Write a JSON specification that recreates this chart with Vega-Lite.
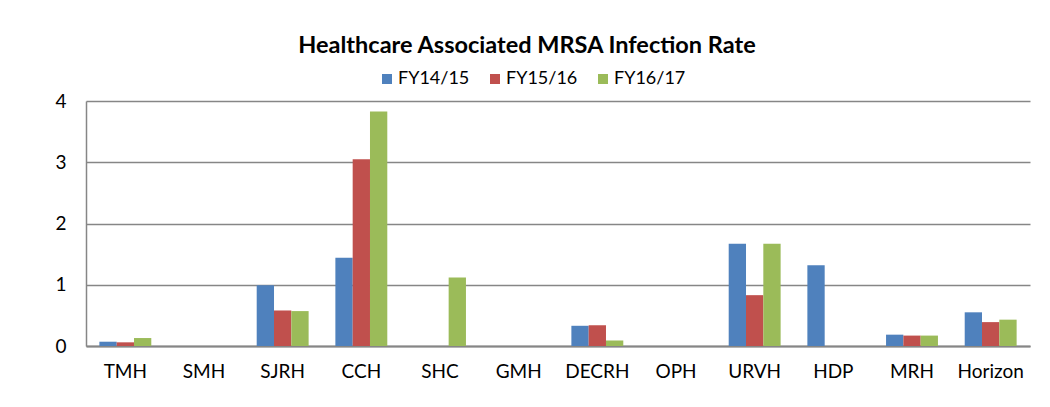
{
  "$schema": "https://vega.github.io/schema/vega-lite/v6.json",
  "width": 944,
  "height": 245,
  "autosize": {"type": "none"},
  "padding": {"left": 86, "top": 101, "right": 20, "bottom": 61},
  "background": "white",
  "title": {
    "text": "Healthcare Associated MRSA Infection Rate",
    "font": "Lato",
    "fontSize": 23.5,
    "fontWeight": "bold",
    "color": "#000000",
    "anchor": "middle",
    "dx": -31,
    "offset": 13
  },
  "config": {
    "view": {"stroke": null},
    "font": "Lato"
  },
  "data": {
    "values": [
      {"site": "TMH", "year": "FY14/15", "rate": 0.07},
      {"site": "TMH", "year": "FY15/16", "rate": 0.06},
      {"site": "TMH", "year": "FY16/17", "rate": 0.13},
      {"site": "SJRH", "year": "FY14/15", "rate": 0.99},
      {"site": "SJRH", "year": "FY15/16", "rate": 0.58},
      {"site": "SJRH", "year": "FY16/17", "rate": 0.57},
      {"site": "CCH", "year": "FY14/15", "rate": 1.44},
      {"site": "CCH", "year": "FY15/16", "rate": 3.05},
      {"site": "CCH", "year": "FY16/17", "rate": 3.83},
      {"site": "SHC", "year": "FY16/17", "rate": 1.12},
      {"site": "DECRH", "year": "FY14/15", "rate": 0.33},
      {"site": "DECRH", "year": "FY15/16", "rate": 0.34},
      {"site": "DECRH", "year": "FY16/17", "rate": 0.09},
      {"site": "URVH", "year": "FY14/15", "rate": 1.67},
      {"site": "URVH", "year": "FY15/16", "rate": 0.83},
      {"site": "URVH", "year": "FY16/17", "rate": 1.67},
      {"site": "HDP", "year": "FY14/15", "rate": 1.32},
      {"site": "MRH", "year": "FY14/15", "rate": 0.185},
      {"site": "MRH", "year": "FY15/16", "rate": 0.17},
      {"site": "MRH", "year": "FY16/17", "rate": 0.17},
      {"site": "Horizon", "year": "FY14/15", "rate": 0.55},
      {"site": "Horizon", "year": "FY15/16", "rate": 0.39},
      {"site": "Horizon", "year": "FY16/17", "rate": 0.43}
    ]
  },
  "mark": {"type": "bar"},
  "encoding": {
    "x": {
      "field": "site",
      "type": "nominal",
      "scale": {
        "domain": ["TMH", "SMH", "SJRH", "CCH", "SHC", "GMH", "DECRH", "OPH", "URVH", "HDP", "MRH", "Horizon"],
        "paddingInner": 0.34,
        "paddingOuter": 0.17
      },
      "axis": {
        "title": null,
        "labelAngle": 0,
        "labelFont": "Lato",
        "labelFontSize": 19,
        "labelColor": "#000000",
        "labelPadding": 16,
        "ticks": false,
        "grid": false,
        "domainColor": "#868686",
        "domainWidth": 2
      }
    },
    "xOffset": {
      "field": "year",
      "type": "nominal",
      "scale": {"domain": ["FY14/15", "FY15/16", "FY16/17"], "padding": 0}
    },
    "y": {
      "field": "rate",
      "type": "quantitative",
      "scale": {"domain": [0, 4], "nice": false},
      "axis": {
        "title": null,
        "values": [0, 1, 2, 3, 4],
        "grid": true,
        "gridColor": "#868686",
        "gridWidth": 1.5,
        "domainColor": "#868686",
        "domainWidth": 1.5,
        "ticks": false,
        "labelPadding": 20,
        "labelFont": "Lato",
        "labelFontSize": 19,
        "labelColor": "#000000"
      }
    },
    "color": {
      "field": "year",
      "type": "nominal",
      "scale": {
        "domain": ["FY14/15", "FY15/16", "FY16/17"],
        "range": ["#4F81BD", "#C0504D", "#9BBB59"]
      },
      "legend": {
        "title": null,
        "orient": "none",
        "direction": "horizontal",
        "legendX": 292,
        "legendY": -31,
        "padding": 0,
        "symbolType": "square",
        "symbolSize": 100,
        "symbolStrokeWidth": 0,
        "labelFont": "Lato",
        "labelFontSize": 18,
        "labelColor": "#000000",
        "labelOffset": 2,
        "columnPadding": 16
      }
    }
  }
}
